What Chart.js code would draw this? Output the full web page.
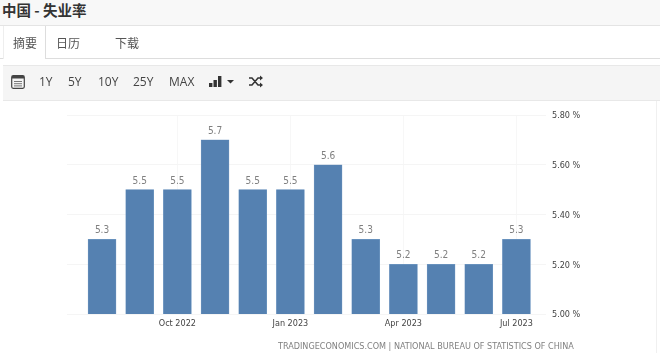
<!DOCTYPE html>
<html>
<head>
<meta charset="utf-8">
<script src="https://cdn.jsdelivr.net/npm/chart.js@4"></script>
<style>
html, body { margin: 0; padding: 0; background: #fff; }
body { width: 660px; height: 353px; overflow: hidden; position: relative; font-family: "Noto Sans CJK SC", "Open Sans", sans-serif; color: #555; }
.abs { position: absolute; white-space: nowrap; }
#title { left: 0; top: 0; width: 660px; height: 25px; background: #f8f8f8; border-bottom: 1px solid #e4e4e4; }
#title span { position: absolute; left: 2px; top: 0; font-size: 14.5px; line-height: 20px; font-weight: 700; color: #333; }
#tabs { left: 0; top: 26px; width: 660px; height: 32px; border-bottom: 1px solid #ddd; }
#tabactive { left: 3px; top: 26px; width: 41px; height: 33px; background: #fff; border-right: 1px solid #ddd; border-left: 1px solid #eee; }
.tab { font-size: 12px; line-height: 16px; top: 35px; color: #555; }
#bar { left: 3px; top: 65px; width: 657px; height: 34px; background: #f5f5f5; border-top: 1px solid #e8e8e8; border-bottom: 1px solid #e8e8e8; }
.btn { font-family: "Open Sans", sans-serif; font-size: 12px; line-height: 16px; top: 74px; color: #444; }
svg { position: absolute; }
#frame { left: 3px; top: 100px; width: 653px; height: 253px; border-right: 1px solid #f0f0f0; border-top: 1px solid #eee; }
#wrap { position: absolute; left: 0; top: 0; width: 660px; height: 353px; }
#src { left: 278px; top: 340px; font-family: "DejaVu Sans Condensed", "DejaVu Sans", sans-serif; font-size: 9px; line-height: 13px; color: #808080; }
</style>
</head>
<body>
<div class="abs" id="frame"></div>
<div id="wrap"><canvas id="chart" width="660" height="353"></canvas></div>
<div class="abs" id="title"><span>中国 - 失业率</span></div>
<div class="abs" id="tabs"></div>
<div class="abs" id="tabactive"></div>
<div class="abs tab" style="left:13px">摘要</div>
<div class="abs tab" style="left:56px">日历</div>
<div class="abs tab" style="left:115px">下载</div>
<div class="abs" id="bar"></div>
<svg style="left:11px;top:75px" width="14" height="14" viewBox="0 0 14 14"><rect x="0.7" y="0.7" width="12.6" height="12.6" rx="1.5" fill="none" stroke="#444" stroke-width="1.2"/><rect x="1" y="1" width="12" height="2.500" fill="#444"/><rect x="3" y="6" width="8" height="1" fill="#777"/><rect x="3" y="8.2" width="8" height="1" fill="#777"/><rect x="3" y="10.4" width="8" height="1" fill="#777"/></svg>
<div class="abs btn" style="left:39px">1Y</div>
<div class="abs btn" style="left:68px">5Y</div>
<div class="abs btn" style="left:98px">10Y</div>
<div class="abs btn" style="left:133px">25Y</div>
<div class="abs btn" style="left:169px">MAX</div>
<svg style="left:209px;top:75px" width="26" height="13" viewBox="0 0 26 13"><rect x="0" y="8" width="3.4" height="4" fill="#333"/><rect x="4.5" y="5" width="3.4" height="7" fill="#333"/><rect x="9" y="1" width="3.4" height="11" fill="#333"/><path d="M18 5h7l-3.500 3.500z" fill="#333"/></svg>
<svg style="left:249px;top:75px" width="14" height="13" viewBox="0 0 14 13"><path d="M0 3h3l6 7h3M0 10h3l6-7h3" fill="none" stroke="#333" stroke-width="1.500"/><path d="M11 0.500l3 2.500-3 2.500zM11 7.500l3 2.500-3 2.500z" fill="#333"/></svg>
<div class="abs" id="src">TRADINGECONOMICS.COM | NATIONAL BUREAU OF STATISTICS OF CHINA</div>
<script>
const months = ['Aug 2022', 'Sep 2022', 'Oct 2022', 'Nov 2022', 'Dec 2022', 'Jan 2023', 'Feb 2023', 'Mar 2023', 'Apr 2023', 'May 2023', 'Jun 2023', 'Jul 2023'];
const unemployment = [5.3, 5.5, 5.5, 5.7, 5.5, 5.5, 5.6, 5.3, 5.2, 5.2, 5.2, 5.3];
const labelledMonths = ['Oct 2022', 'Jan 2023', 'Apr 2023', 'Jul 2023'];
const yTicks = [5.0, 5.2, 5.4, 5.6, 5.8];

const axisFont = '"DejaVu Sans Condensed", "DejaVu Sans"';

// 数值标签
const valueLabels = {
    id: 'valueLabels',
    afterDatasetsDraw(chart) {
        const ctx = chart.ctx;
        ctx.save();
        ctx.font = '10px ' + axisFont;
        ctx.fillStyle = '#808080';
        ctx.textAlign = 'center';
        ctx.textBaseline = 'alphabetic';
        chart.getDatasetMeta(0).data.forEach((bar, i) => {
            ctx.fillText(unemployment[i].toFixed(1), bar.x, bar.y - 6);
        });
        ctx.restore();
    },
};

new Chart(document.getElementById('chart'), {
    type: 'bar',
    data: {
        datasets: [{
            data: months.map((m, i) => ({ x: i, y: unemployment[i] })),
            backgroundColor: '#5581b1',
            borderColor: '#7ba0c8',
            borderWidth: 0.5,
            barThickness: 28,
        }],
    },
    plugins: [valueLabels],
    options: {
        responsive: false,
        animation: false,
        layout: { padding: { left: 67, top: 115, right: 0, bottom: 0 } },
        plugins: { legend: { display: false }, tooltip: { enabled: false } },
        scales: {
            x: {
                type: 'linear',
                offset: false,
                min: -0.93,
                max: 11.785,
                afterBuildTicks: (axis) => {
                    axis.ticks = labelledMonths.map(m => ({ value: months.indexOf(m) }));
                },
                afterFit: (axis) => { axis.height = 39; },
                grid: { color: '#f7f7f7', drawTicks: false, offset: false },
                border: { display: false },
                ticks: {
                    autoSkip: false,
                    maxRotation: 0,
                    padding: 4,
                    color: '#444',
                    font: { family: axisFont, size: 9 },
                    callback: (v) => months[v],
                },
            },
            y: {
                position: 'right',
                min: 5.0,
                max: 5.8,
                afterBuildTicks: (axis) => {
                    axis.ticks = yTicks.map(value => ({ value }));
                },
                afterFit: (axis) => { axis.width = 114; },
                grid: { color: '#f5f5f5', drawTicks: false },
                border: { display: false },
                ticks: {
                    padding: 6,
                    labelOffset: 1,
                    color: '#444',
                    font: { family: axisFont, size: 9 },
                    callback: (v) => v.toFixed(2) + ' %',
                },
            },
        },
    },
});
</script>
</body>
</html>
